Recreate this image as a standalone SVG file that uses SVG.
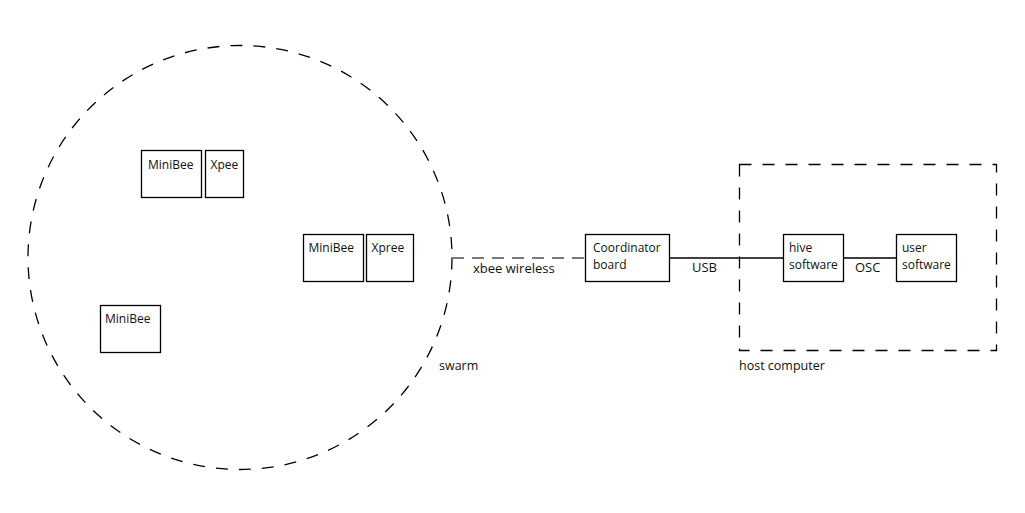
<svg xmlns="http://www.w3.org/2000/svg" width="1025" height="513" viewBox="0 0 1025 513">
<style>
.box{fill:#fff;stroke:#000;stroke-width:1.3}
text{font-family:"Open Sans","Noto Sans",sans-serif;font-size:12px;fill:#111}
.lbl{font-size:13px}
.grp{font-size:12.5px}
.dash{fill:none;stroke:#000;stroke-width:1.3;stroke-dasharray:12 11}
.wire{fill:none;stroke:#000;stroke-width:1.3}
</style>
<rect width="1025" height="513" fill="#fff"/>
<g id="swarm">
<circle class="dash" cx="240" cy="257.5" r="212"/>
<text class="grp" x="439" y="370">swarm</text>
</g>
<g id="host-computer">
<rect class="dash" x="739.5" y="164.5" width="257" height="186"/>
<text class="grp" x="739" y="370">host computer</text>
</g>
<g id="connectors">
<line x1="452" y1="258" x2="585" y2="258" stroke="#7a7a7a" stroke-width="2" stroke-dasharray="12 8"/>
<line class="wire" x1="670" y1="258" x2="783" y2="258"/>
<line class="wire" x1="843" y1="258" x2="896" y2="258"/>
<text class="lbl" x="473" y="273">xbee wireless</text>
<text class="lbl" x="692" y="272">USB</text>
<text class="lbl" x="855" y="272">OSC</text>
</g>
<g id="minibee1">
<rect class="box" x="141.5" y="150.5" width="60" height="47"/>
<text x="148" y="169">MiniBee</text>
</g>
<g id="xpee">
<rect class="box" x="205.5" y="150.5" width="38" height="47"/>
<text x="210.5" y="169">Xpee</text>
</g>
<g id="minibee2">
<rect class="box" x="303.5" y="234.5" width="60" height="47"/>
<text x="308.5" y="252">MiniBee</text>
</g>
<g id="xpree">
<rect class="box" x="366.5" y="234.5" width="47" height="47"/>
<text x="371.5" y="252">Xpree</text>
</g>
<g id="minibee3">
<rect class="box" x="100.5" y="305.5" width="60" height="47"/>
<text x="105" y="323">MiniBee</text>
</g>
<g id="coordinator">
<rect class="box" x="585.5" y="234.5" width="84" height="47"/>
<text x="593" y="252">Coordinator</text>
<text x="593" y="269">board</text>
</g>
<g id="hive">
<rect class="box" x="783.5" y="234.5" width="60" height="47"/>
<text x="789" y="252">hive</text>
<text x="789" y="268.5">software</text>
</g>
<g id="user">
<rect class="box" x="896.5" y="234.5" width="60" height="47"/>
<text x="902" y="252">user</text>
<text x="902" y="268.5">software</text>
</g>
</svg>
